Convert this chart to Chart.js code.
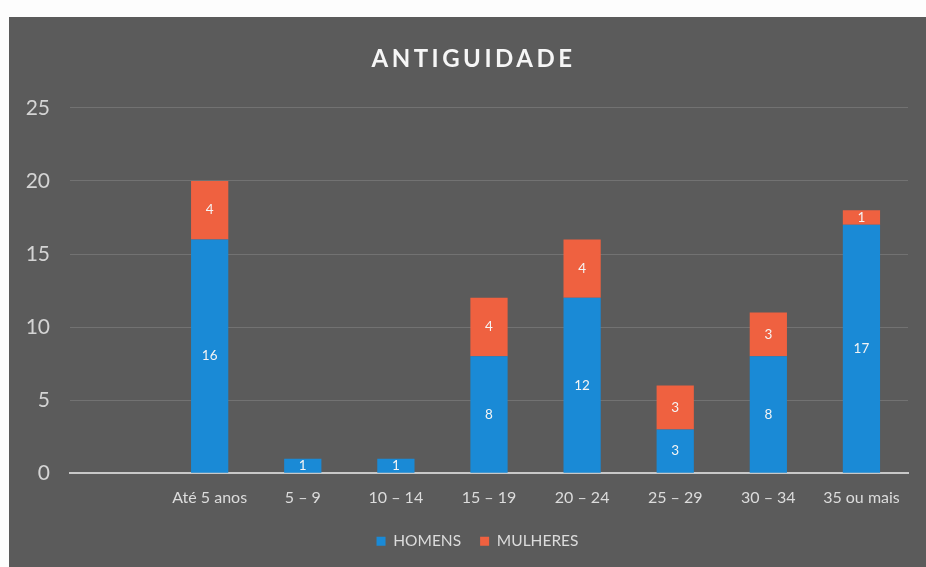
<!DOCTYPE html>
<html>
<head>
<meta charset="utf-8">
<script src="https://cdn.jsdelivr.net/npm/chart.js@4"></script>
<style>
  html, body { margin: 0; padding: 0; background: #fdfdfd; }
  #wrap {
    position: absolute; left: 9px; top: 17px;
    width: 917px; height: 550px;
    background: #5b5b5b;
  }
</style>
</head>
<body>
<div id="wrap"><canvas id="chart"></canvas></div>
<script>
const categories = ["", "Até 5 anos", "5 – 9", "10 – 14", "15 – 19", "20 – 24", "25 – 29", "30 – 34", "35 ou mais"]
const homens = [null, 16, 1, 1, 8, 12, 3, 8, 17]
const mulheres = [null, 4, 0, 0, 4, 4, 3, 3, 1]
const yTicks = [0, 5, 10, 15, 20, 25]

// labels in the middle of each stacked segment
const barLabels = {
  id: "barLabels",
  afterDatasetsDraw(chart) {
    const ctx = chart.ctx
    ctx.save()
    ctx.font = "13.5px Lato"
    ctx.fillStyle = "#f4f4f4"
    ctx.textAlign = "center"
    ctx.textBaseline = "middle"
    chart.data.datasets.forEach((ds, i) => {
      chart.getDatasetMeta(i).data.forEach((bar, j) => {
        const v = ds.data[j]
        if (!v) return
        ctx.fillText(String(v), bar.x, (bar.y + bar.base) / 2)
      })
    })
    ctx.restore()
  },
}

// spaced-out title letters; title and legend nudged right like the original
function nudge(box, dx, spacing) {
  if (!box || box._nudged) return
  const orig = box.draw
  box.draw = function () {
    const ctx = this.ctx
    ctx.save()
    ctx.translate(dx, 0)
    ctx.letterSpacing = spacing
    orig.apply(this, arguments)
    ctx.letterSpacing = "0px"
    ctx.restore()
  }
  box._nudged = true
}
const nudgeBoxes = {
  id: "nudgeBoxes",
  beforeDraw(chart) {
    nudge(chart.titleBlock, 15, "3.5px")
    nudge(chart.legend, 19, "0px")
  },
}

new Chart(document.getElementById("chart"), {
  type: "bar",
  data: {
    labels: categories,
    datasets: [
      {
        label: "HOMENS",
        data: homens,
        backgroundColor: "#1a8ad6",
        categoryPercentage: 1,
        barPercentage: 0.4,
      },
      {
        label: "MULHERES",
        data: mulheres,
        backgroundColor: "#ef6140",
        categoryPercentage: 1,
        barPercentage: 0.4,
      },
    ],
  },
  options: {
    responsive: true,
    maintainAspectRatio: false,
    animation: false,
    layout: { padding: { left: 0, right: 18, top: 0, bottom: 8 } },
    plugins: {
      title: {
        display: true,
        text: "ANTIGUIDADE",
        color: "#f6f6f6",
        font: { family: "Lato", size: 24, weight: "bold" },
        padding: { top: 28, bottom: 34 },
      },
      legend: {
        position: "bottom",
        labels: {
          color: "#dcdcdc",
          font: { family: "Lato", size: 15.5 },
          boxWidth: 9,
          boxHeight: 9,
          padding: 19,
        },
      },
      tooltip: { enabled: false },
    },
    scales: {
      x: {
        stacked: true,
        grid: { display: false },
        border: { color: "#c8c8c8", width: 2 },
        ticks: { color: "#dcdcdc", font: { family: "Lato", size: 16 }, padding: 7, maxRotation: 0 },
      },
      y: {
        stacked: true,
        min: 0,
        max: 25,
        afterBuildTicks(axis) {
          axis.ticks = yTicks.map((v) => ({ value: v }))
        },
        afterFit(axis) {
          axis.width = 61
        },
        grid: { color: "#727272", drawTicks: false },
        border: { display: false },
        ticks: { color: "#d4d4d4", font: { family: "Lato", size: 21 }, padding: 20 },
      },
    },
  },
  plugins: [barLabels, nudgeBoxes],
})
</script>
</body>
</html>
